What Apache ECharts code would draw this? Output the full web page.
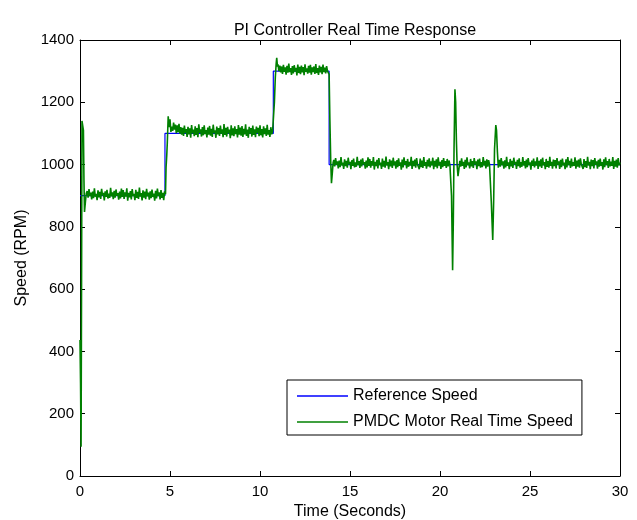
<!DOCTYPE html>
<html>
<head>
<meta charset="utf-8">
<script src="https://cdn.jsdelivr.net/npm/echarts@6/dist/echarts.min.js"></script>
<style>
html,body{margin:0;padding:0;background:#fff;}
#chart{width:637px;height:520px;}
</style>
</head>
<body>
<div id="chart"></div>
<script>
const chartTitle = 'PI Controller Real Time Response';
const xAxisName = 'Time (Seconds)';
const yAxisName = 'Speed (RPM)';
const seriesNames = ['Reference Speed', 'PMDC Motor Real Time Speed'];
const xTicks = [0, 5, 10, 15, 20, 25, 30];
const yTicks = [0, 200, 400, 600, 800, 1000, 1200, 1400];

// Reference (set-point) speed: [time s, rpm]
const referenceSpeed = [
  [0, 900], [4.72, 900], [4.72, 1100], [10.74, 1100], [10.74, 1300],
  [13.84, 1300], [13.84, 1000], [30, 1000]
];

const motorSpeed = [
  [0,437],[0.03,300],[0.06,94],[0.09,700],[0.11,1140],[0.15,1138],[0.19,1110],[0.22,950],[0.25,848],[0.3,880],[0.35,908],
  [0.40,915],[0.45,894],[0.50,921],[0.55,899],[0.60,910],[0.65,888],[0.70,913],[0.75,892],[0.80,924],[0.85,897],
  [0.90,906],[0.95,886],[1.00,917],[1.05,895],[1.10,912],[1.15,890],[1.20,922],[1.25,901],[1.30,909],[1.35,885],
  [1.40,914],[1.45,896],[1.50,919],[1.55,891],[1.60,907],[1.65,893],[1.70,925],[1.75,898],[1.80,911],[1.85,889],
  [1.90,916],[1.95,894],[2.00,920],[2.05,900],[2.10,908],[2.15,887],[2.20,913],[2.25,891],[2.30,923],[2.35,896],
  [2.40,918],[2.45,890],[2.50,911],[2.55,897],[2.60,924],[2.65,884],[2.70,909],[2.75,895],[2.80,915],[2.85,888],
  [2.90,921],[2.95,899],[3.00,906],[3.05,886],[3.10,919],[3.15,893],[3.20,912],[3.25,890],[3.30,926],[3.35,897],
  [3.40,908],[3.45,885],[3.50,917],[3.55,894],[3.60,913],[3.65,889],[3.70,922],[3.75,898],[3.80,910],[3.85,887],
  [3.90,914],[3.95,892],[4.00,920],[4.05,896],[4.10,907],[4.15,884],[4.20,916],[4.25,891],[4.30,923],[4.35,899],
  [4.40,911],[4.45,888],[4.50,918],[4.55,893],[4.60,909],[4.65,886],[4.70,914],
  [4.75,905],[4.78,990],[4.82,1030],[4.85,1070],[4.9,1155],[4.95,1120],[5.0,1145],[5.05,1105],
  [5.10,1122],[5.15,1108],[5.20,1135],[5.25,1112],[5.30,1128],[5.35,1101],[5.40,1126],[5.45,1104],[5.50,1131],[5.55,1099],
  [5.60,1120],[5.65,1096],[5.70,1118],[5.75,1092],[5.80,1125],[5.85,1101],[5.90,1114],[5.95,1089],[6.00,1121],[6.05,1097],
  [6.10,1116],[6.15,1086],[6.20,1127],[6.25,1100],[6.30,1112],[6.35,1091],[6.40,1123],[6.45,1095],[6.50,1117],[6.55,1088],
  [6.60,1129],[6.65,1102],[6.70,1113],[6.75,1090],[6.80,1120],[6.85,1094],[6.90,1126],[6.95,1098],[7.00,1111],[7.05,1087],
  [7.10,1119],[7.15,1096],[7.20,1124],[7.25,1093],[7.30,1115],[7.35,1089],[7.40,1128],[7.45,1101],[7.50,1110],[7.55,1086],
  [7.60,1122],[7.65,1097],[7.70,1117],[7.75,1092],[7.80,1125],[7.85,1099],[7.90,1113],[7.95,1088],[8.00,1130],[8.05,1095],
  [8.10,1118],[8.15,1090],[8.20,1121],[8.25,1100],[8.30,1112],[8.35,1085],[8.40,1126],[8.45,1094],[8.50,1116],[8.55,1091],
  [8.60,1123],[8.65,1098],[8.70,1114],[8.75,1087],[8.80,1127],[8.85,1096],[8.90,1119],[8.95,1093],[9.00,1124],[9.05,1089],
  [9.10,1115],[9.15,1097],[9.20,1129],[9.25,1092],[9.30,1112],[9.35,1086],[9.40,1121],[9.45,1099],[9.50,1117],[9.55,1090],
  [9.60,1125],[9.65,1095],[9.70,1113],[9.75,1088],[9.80,1122],[9.85,1101],[9.90,1118],[9.95,1091],[10.00,1126],[10.05,1094],
  [10.10,1114],[10.15,1087],[10.20,1123],[10.25,1098],[10.30,1116],[10.35,1092],[10.40,1128],[10.45,1096],[10.50,1111],[10.55,1089],
  [10.60,1120],[10.65,1097],[10.70,1108],
  [10.75,1105],[10.8,1200],[10.85,1280],[10.9,1325],[10.93,1343],[10.97,1315],
  [11.00,1322],[11.05,1300],[11.10,1318],[11.15,1296],[11.20,1315],[11.25,1291],[11.30,1320],[11.35,1298],[11.40,1312],[11.45,1289],
  [11.50,1317],[11.55,1295],[11.60,1324],[11.65,1297],[11.70,1310],[11.75,1288],[11.80,1316],[11.85,1293],[11.90,1319],[11.95,1299],
  [12.00,1311],[12.05,1286],[12.10,1321],[12.15,1294],[12.20,1314],[12.25,1290],[12.30,1318],[12.35,1296],[12.40,1313],[12.45,1287],
  [12.50,1322],[12.55,1298],[12.60,1309],[12.65,1292],[12.70,1317],[12.75,1295],[12.80,1320],[12.85,1289],[12.90,1312],[12.95,1297],
  [13.00,1315],[13.05,1291],[13.10,1323],[13.15,1294],[13.20,1310],[13.25,1288],[13.30,1318],[13.35,1296],[13.40,1314],[13.45,1290],
  [13.50,1321],[13.55,1297],[13.60,1311],[13.65,1293],[13.70,1316],[13.75,1300],
  [13.84,1290],[13.88,1150],[13.93,1010],[13.97,940],[14.02,975],[14.06,1005],
  [14.10,1015],[14.15,994],[14.20,1021],[14.25,999],[14.30,1010],[14.35,988],[14.40,1013],[14.45,992],[14.50,1024],[14.55,997],
  [14.60,1006],[14.65,986],[14.70,1017],[14.75,995],[14.80,1012],[14.85,990],[14.90,1022],[14.95,1001],[15.00,1009],[15.05,985],
  [15.10,1014],[15.15,996],[15.20,1019],[15.25,991],[15.30,1007],[15.35,993],[15.40,1025],[15.45,998],[15.50,1011],[15.55,989],
  [15.60,1016],[15.65,994],[15.70,1020],[15.75,1000],[15.80,1008],[15.85,987],[15.90,1013],[15.95,991],[16.00,1023],[16.05,996],
  [16.10,1018],[16.15,990],[16.20,1011],[16.25,997],[16.30,1024],[16.35,984],[16.40,1009],[16.45,995],[16.50,1015],[16.55,988],
  [16.60,1021],[16.65,999],[16.70,1006],[16.75,986],[16.80,1019],[16.85,993],[16.90,1012],[16.95,990],[17.00,1026],[17.05,997],
  [17.10,1008],[17.15,985],[17.20,1017],[17.25,994],[17.30,1013],[17.35,989],[17.40,1022],[17.45,998],[17.50,1010],[17.55,987],
  [17.60,1014],[17.65,992],[17.70,1020],[17.75,996],[17.80,1007],[17.85,984],[17.90,1016],[17.95,991],[18.00,1023],[18.05,999],
  [18.10,1011],[18.15,988],[18.20,1018],[18.25,993],[18.30,1009],[18.35,997],[18.40,1025],[18.45,986],[18.50,1012],[18.55,995],
  [18.60,1016],[18.65,990],[18.70,1021],[18.75,1000],[18.80,1006],[18.85,985],[18.90,1019],[18.95,992],[19.00,1013],[19.05,989],
  [19.10,1024],[19.15,996],[19.20,1008],[19.25,987],[19.30,1015],[19.35,994],[19.40,1020],[19.45,991],[19.50,1010],[19.55,998],
  [19.60,1022],[19.65,985],[19.70,1012],[19.75,993],[19.80,1017],[19.85,988],[19.90,1023],[19.95,997],[20.00,1009],[20.05,986],
  [20.10,1014],[20.15,992],[20.20,1021],[20.25,996],[20.30,1011],[20.35,989],[20.40,1018],[20.45,994],[20.50,1013],[20.55,999],
  [20.60,1005],
  [20.64,900],[20.70,661],[20.74,820],[20.78,1050],[20.83,1242],[20.87,1200],[20.91,1080],[20.95,1000],[21.00,963],[21.05,985],
  [21.10,1012],[21.15,993],[21.20,1020],[21.25,996],[21.30,1009],[21.35,986],[21.40,1015],[21.45,991],[21.50,1023],[21.55,998],
  [21.60,1007],[21.65,988],[21.70,1018],[21.75,994],[21.80,1011],[21.85,989],[21.90,1021],[21.95,1000],[22.00,1010],[22.05,985],
  [22.10,1016],[22.15,995],[22.20,1019],[22.25,990],[22.30,1008],[22.35,992],[22.40,1024],[22.45,997],[22.50,1012],[22.55,988],
  [22.60,1017],[22.65,993],[22.70,1014],[22.75,1001],[22.80,1003],
  [22.85,880],[22.93,758],[22.98,880],[23.03,1050],[23.10,1127],[23.14,1110],[23.19,1040],[23.24,990],[23.30,1015],
  [23.35,993],[23.40,1021],[23.45,998],[23.50,1010],[23.55,987],[23.60,1014],[23.65,991],[23.70,1025],[23.75,996],[23.80,1007],
  [23.85,985],[23.90,1018],[23.95,994],[24.00,1012],[24.05,989],[24.10,1022],[24.15,1000],[24.20,1009],[24.25,986],[24.30,1015],
  [24.35,995],[24.40,1020],[24.45,990],[24.50,1008],[24.55,993],[24.60,1024],[24.65,997],[24.70,1011],[24.75,988],[24.80,1016],
  [24.85,992],[24.90,1021],[24.95,999],[25.00,1007],[25.05,984],[25.10,1013],[25.15,996],[25.20,1019],[25.25,991],[25.30,1010],
  [25.35,997],[25.40,1023],[25.45,986],[25.50,1012],[25.55,994],[25.60,1017],[25.65,989],[25.70,1022],[25.75,998],[25.80,1008],
  [25.85,985],[25.90,1018],[25.95,993],[26.00,1011],[26.05,990],[26.10,1025],[26.15,996],[26.20,1009],[26.25,987],[26.30,1016],
  [26.35,995],[26.40,1014],[26.45,988],[26.50,1021],[26.55,999],[26.60,1010],[26.65,986],[26.70,1015],[26.75,992],[26.80,1019],
  [26.85,997],[26.90,1006],[26.95,985],[27.00,1017],[27.05,991],[27.10,1024],[27.15,998],[27.20,1012],[27.25,989],[27.30,1019],
  [27.35,994],[27.40,1008],[27.45,996],[27.50,1023],[27.55,987],[27.60,1013],[27.65,993],[27.70,1016],[27.75,990],[27.80,1020],
  [27.85,1001],[27.90,1007],[27.95,986],[28.00,1018],[28.05,992],[28.10,1011],[28.15,989],[28.20,1025],[28.25,997],[28.30,1009],
  [28.35,985],[28.40,1016],[28.45,995],[28.50,1014],[28.55,988],[28.60,1021],[28.65,999],[28.70,1010],[28.75,987],[28.80,1015],
  [28.85,993],[28.90,1019],[28.95,996],[29.00,1008],[29.05,984],[29.10,1017],[29.15,992],[29.20,1023],[29.25,998],[29.30,1011],
  [29.35,989],[29.40,1018],[29.45,994],[29.50,1009],[29.55,996],[29.60,1024],[29.65,986],[29.70,1012],[29.75,993],[29.80,1016],
  [29.85,990],[29.90,1021],[29.95,998],[30.00,1007]
];

const FONT = '"Liberation Sans", Arial, Helvetica, sans-serif';
const chart = echarts.init(document.getElementById('chart'), null, {renderer: 'canvas'});

const xMin = xTicks[0], xMax = xTicks[xTicks.length - 1];
const xStep = xTicks[1] - xTicks[0];
const yMin = yTicks[0], yMax = yTicks[yTicks.length - 1];
const yStep = yTicks[1] - yTicks[0];

function axisLine() { return {show: true, onZero: false, lineStyle: {color: '#000', width: 1}}; }
function axisTick() { return {show: true, inside: true, length: 5, lineStyle: {color: '#000', width: 1}}; }

chart.setOption({
  animation: false,
  backgroundColor: '#fff',
  title: {
    text: chartTitle,
    left: 350,
    textAlign: 'center',
    top: 18,
    textStyle: {fontFamily: FONT, fontSize: 16, fontWeight: 'normal', color: '#000'}
  },
  grid: {left: 80, right: 17, top: 40, bottom: 44, containLabel: false, outerBoundsMode: 'none'},
  legend: {
    orient: 'vertical',
    left: 287,
    top: 380,
    padding: [8, 9, 5, 10],
    itemGap: 10,
    itemWidth: 51,
    itemHeight: 1.5,
    icon: 'rect',
    borderColor: '#000',
    borderWidth: 1,
    backgroundColor: '#fff',
    textStyle: {fontFamily: FONT, fontSize: 16, color: '#000'},
    data: seriesNames
  },
  xAxis: [
    {
      type: 'value', position: 'bottom', min: xMin, max: xMax, interval: xStep,
      name: xAxisName, nameLocation: 'middle', nameGap: 26,
      nameTextStyle: {fontFamily: FONT, fontSize: 16, color: '#000'},
      axisLine: axisLine(), axisTick: axisTick(),
      axisLabel: {fontFamily: FONT, fontSize: 15, color: '#000', margin: 8, formatter: v => String(v)},
      splitLine: {show: false}
    },
    {
      type: 'value', position: 'top', min: xMin, max: xMax, interval: xStep,
      axisLine: axisLine(), axisTick: axisTick(), axisLabel: {show: false}, splitLine: {show: false}
    }
  ],
  yAxis: [
    {
      type: 'value', position: 'left', min: yMin, max: yMax, interval: yStep,
      name: yAxisName, nameLocation: 'middle', nameGap: 48,
      nameTextStyle: {fontFamily: FONT, fontSize: 16, color: '#000'},
      axisLine: axisLine(), axisTick: axisTick(),
      axisLabel: {fontFamily: FONT, fontSize: 15, color: '#000', margin: 6, formatter: v => String(v)},
      splitLine: {show: false}
    },
    {
      type: 'value', position: 'right', min: yMin, max: yMax, interval: yStep,
      axisLine: axisLine(), axisTick: axisTick(), axisLabel: {show: false}, splitLine: {show: false}
    }
  ],
  series: [
    {
      name: seriesNames[0], type: 'line', data: referenceSpeed,
      xAxisIndex: 0, yAxisIndex: 0,
      showSymbol: false, symbol: 'none',
      color: '#0000ff',
      lineStyle: {color: '#0000ff', width: 1.2},
      z: 2
    },
    {
      name: seriesNames[1], type: 'line', data: motorSpeed,
      xAxisIndex: 0, yAxisIndex: 0,
      showSymbol: false, symbol: 'none',
      color: '#008000',
      lineStyle: {color: '#008000', width: 1.6},
      z: 3
    }
  ]
});
</script>
</body>
</html>
